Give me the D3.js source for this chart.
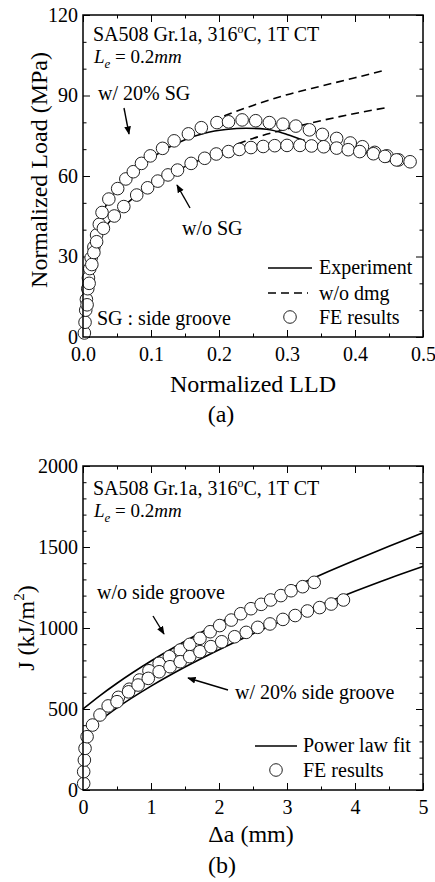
<!DOCTYPE html>
<html>
<head>
<meta charset="utf-8">
<script src="https://cdn.jsdelivr.net/npm/d3@7"></script>
<style>
  body { margin: 0; background: #fff; }
  svg { display: block; font-family: 'Liberation Serif', 'Times New Roman', serif; }
</style>
</head>
<body>
<svg id="fig" width="435" height="882"></svg>
<script>
// ---- panel (a): normalized load vs normalized LLD ----
const lldTicks = [0, 0.1, 0.2, 0.3, 0.4, 0.5];
const loadTicks = [0, 30, 60, 90, 120];

// experiment, w/ 20% side groove
const lldExpSG = [0, 0.005, 0.01, 0.02, 0.03, 0.05, 0.075, 0.1, 0.125, 0.15, 0.18, 0.21, 0.24, 0.27, 0.3, 0.326];
const loadExpSG = [0, 15, 28, 40, 47, 55, 61.5, 66.5, 70.5, 73.5, 76, 77.3, 77.8, 77.4, 75.5, 73.2];
// experiment, w/o side groove
const lldExpNo = [0, 0.005, 0.01, 0.02, 0.03, 0.05, 0.075, 0.1, 0.125, 0.15, 0.175, 0.2, 0.225, 0.25, 0.275, 0.3, 0.325, 0.35, 0.375, 0.4, 0.425, 0.45, 0.47];
const loadExpNo = [0, 12, 22, 33, 39.5, 46, 52, 56.5, 60.2, 63.5, 66.2, 68.2, 69.6, 70.5, 71.0, 71.2, 71.1, 70.7, 70.1, 69.3, 68.2, 66.8, 65.6];
// w/o damage (dashed)
const lldDmgSG = [0.19, 0.21, 0.25, 0.3, 0.35, 0.4, 0.443];
const loadDmgSG = [80.5, 82.6, 86.3, 90.3, 93.5, 96.6, 99.4];
const lldDmgNo = [0.228, 0.25, 0.3, 0.35, 0.4, 0.447];
const loadDmgNo = [72.0, 74, 77.5, 80.6, 83.3, 85.5];
// FE results
const lldFeSG = [0.002, 0.003, 0.004, 0.005, 0.007, 0.008, 0.010, 0.012, 0.016, 0.020, 0.024, 0.028, 0.038, 0.051, 0.063, 0.074, 0.086, 0.099, 0.117, 0.134, 0.155, 0.174, 0.197, 0.214, 0.234, 0.254, 0.274, 0.294, 0.313, 0.333, 0.352, 0.373, 0.393, 0.411, 0.429, 0.447, 0.464];
const loadFeSG = [1.5, 5.5, 10, 14, 18, 22, 25.5, 29.5, 33.5, 38, 42, 46.4, 51.4, 55.3, 58.9, 61.6, 64.7, 67.5, 70.3, 73.1, 75.7, 78.0, 79.9, 80.2, 80.9, 80.6, 79.9, 79.3, 78.6, 77.2, 75.5, 74.0, 72.3, 70.9, 68.8, 67.5, 66.0];
const lldFeNo = [0.006, 0.009, 0.013, 0.016, 0.020, 0.030, 0.046, 0.060, 0.079, 0.095, 0.110, 0.125, 0.139, 0.159, 0.179, 0.196, 0.214, 0.230, 0.247, 0.265, 0.282, 0.300, 0.319, 0.336, 0.354, 0.373, 0.390, 0.407, 0.427, 0.444, 0.461, 0.481];
const loadFeNo = [12, 20, 27, 31.5, 35.5, 40.5, 45.1, 48.6, 52.9, 55.6, 58.1, 60.4, 62.2, 64.7, 66.6, 68.2, 69.1, 69.9, 70.6, 71.0, 71.3, 71.4, 71.4, 71.2, 70.9, 70.4, 69.8, 69.1, 68.3, 67.3, 66.0, 65.3];

// ---- panel (b): J vs crack growth ----
const daTicks = [0, 1, 2, 3, 4, 5];
const jTicks = [0, 500, 1000, 1500, 2000];

// power law fits
const daFitNo = [0, 0.25, 0.5, 1, 1.5, 2, 2.5, 3, 3.5, 4, 4.5, 5];
const jFitNo = [500, 583, 659, 796, 918, 1031, 1136, 1235, 1329, 1418, 1504, 1588];
const daFitSG = [0.25, 0.5, 1, 1.5, 2, 2.5, 3, 3.5, 4, 4.5, 5];
const jFitSG = [430, 507, 641, 759, 866, 965, 1057, 1144, 1227, 1306, 1380];
// FE results
const daFeNo = [0.01, 0.01, 0.02, 0.03, 0.06, 0.14, 0.25, 0.37, 0.52, 0.68, 0.83, 0.97, 1.12, 1.27, 1.43, 1.57, 1.72, 1.87, 2.01, 2.18, 2.32, 2.47, 2.62, 2.76, 2.91, 3.06, 3.23, 3.40];
const jFeNo = [40, 113, 185, 257, 329, 401, 463, 519, 572, 622, 679, 736, 782, 823, 864, 899, 936, 977, 1015, 1049, 1088, 1119, 1146, 1173, 1200, 1230, 1255, 1282];
const daFeSG = [0.50, 0.67, 0.81, 0.96, 1.12, 1.28, 1.43, 1.57, 1.72, 1.88, 2.04, 2.23, 2.40, 2.57, 2.75, 2.94, 3.12, 3.30, 3.48, 3.65, 3.83];
const jFeSG = [545, 606, 648, 689, 730, 761, 792, 823, 854, 885, 915, 946, 973, 1004, 1025, 1053, 1077, 1105, 1126, 1148, 1173];

const zip = (a, b) => a.map((v, i) => [v, b[i]]);
const svg = d3.select('#fig');

// arrow head
svg.append('defs').append('marker')
    .attr('id', 'head')
    .attr('viewBox', '0 0 10 10')
    .attr('refX', 9).attr('refY', 5)
    .attr('markerWidth', 6).attr('markerHeight', 6)
    .attr('orient', 'auto')
  .append('path')
    .attr('d', 'M0,1 L10,5 L0,9 Z')
    .attr('fill', '#000');

function panel(o) {
  const left = 83, right = 423;
  const x = d3.scaleLinear(o.xDomain, [left, right]);
  const y = d3.scaleLinear(o.yDomain, [o.bottom, o.top]);
  const g = svg.append('g');

  // inward ticks on all four sides
  const sides = [
    [d3.axisBottom, x, `translate(0,${o.bottom})`, o.xTicks, o.xMinor, o.xFmt, 10],
    [d3.axisTop, x, `translate(0,${o.top})`, o.xTicks, o.xMinor, null, 0],
    [d3.axisLeft, y, `translate(${left},0)`, o.yTicks, o.yMinor, o.yFmt, 5],
    [d3.axisRight, y, `translate(${right},0)`, o.yTicks, o.yMinor, null, 0]
  ];
  sides.forEach(([ax, sc, tr, major, minor, fmt, pad]) => {
    g.append('g').attr('transform', tr)
      .call(ax(sc).tickValues(minor).tickSize(-3.5).tickFormat(''))
      .call(s => s.select('.domain').remove());
    g.append('g').attr('transform', tr)
      .call(ax(sc).tickValues(major).tickSize(-7).tickPadding(pad).tickFormat(fmt || (() => '')))
      .attr('font-size', 20)
      .attr('font-family', null)
      .call(s => s.select('.domain').remove())
      .call(s => s.selectAll('text').attr('fill', '#000'));
  });
  g.selectAll('.tick line').attr('stroke', '#000');

  const line = d3.line().x(d => x(d[0])).y(d => y(d[1])).curve(d3.curveMonotoneX);
  o.lines.forEach(l => {
    g.append('path')
      .attr('d', line(l.data))
      .attr('fill', 'none')
      .attr('stroke', '#000')
      .attr('stroke-width', 1.6)
      .attr('stroke-dasharray', l.dash ? '8,5' : null);
  });
  o.points.forEach(p => {
    g.append('g').selectAll('circle')
      .data(p)
      .join('circle')
        .attr('cx', d => x(d[0]))
        .attr('cy', d => y(d[1]))
        .attr('r', 6.3)
        .attr('fill', '#fff')
        .attr('stroke', '#222')
        .attr('stroke-width', 1);
  });

  g.append('rect')
    .attr('x', left).attr('y', o.top)
    .attr('width', right - left).attr('height', o.bottom - o.top)
    .attr('fill', 'none').attr('stroke', '#000').attr('stroke-width', 1.5);
  return g;
}

function note(g, px, py, txt, size = 20) {
  return g.append('text').attr('x', px).attr('y', py).attr('font-size', size).text(txt);
}

function header(g, py) {
  const t = g.append('text').attr('x', 93).attr('y', py).attr('font-size', 20);
  t.append('tspan').text('SA508 Gr.1a, 316');
  t.append('tspan').attr('dy', -8).attr('font-size', 12).text('o');
  t.append('tspan').attr('dy', 8).text('C, 1T CT');
  const l = g.append('text').attr('x', 94).attr('y', py + 22).attr('font-size', 19);
  l.append('tspan').attr('font-style', 'italic').text('L');
  l.append('tspan').attr('font-style', 'italic').attr('font-size', 13).attr('dy', 5).text('e');
  l.append('tspan').attr('dy', -5).text(' = 0.2');
  l.append('tspan').attr('font-style', 'italic').text('mm');
}

function arrow(g, x1, y1, x2, y2) {
  g.append('line')
    .attr('x1', x1).attr('y1', y1).attr('x2', x2).attr('y2', y2)
    .attr('stroke', '#000').attr('stroke-width', 1.4)
    .attr('marker-end', 'url(#head)');
}

// panel (a)
const ga = panel({
  top: 15, bottom: 337,
  xDomain: [0, 0.5], yDomain: [0, 120],
  xTicks: lldTicks, xMinor: d3.range(0.05, 0.5, 0.1),
  yTicks: loadTicks, yMinor: d3.range(0, 121, 10).filter(v => v % 30),
  xFmt: d3.format('.1f'), yFmt: d3.format('d'),
  lines: [
    { data: zip(lldExpSG, loadExpSG) },
    { data: zip(lldExpNo, loadExpNo) },
    { data: zip(lldDmgSG, loadDmgSG), dash: true },
    { data: zip(lldDmgNo, loadDmgNo), dash: true }
  ],
  points: [zip(lldFeSG, loadFeSG), zip(lldFeNo, loadFeNo)]
});
header(ga, 41);
note(ga, 98, 100, 'w/ 20% SG');
arrow(ga, 124, 108, 129, 134);
note(ga, 182, 235, 'w/o SG');
arrow(ga, 190, 208, 177, 185);
note(ga, 97, 325, 'SG : side groove');
// legend
ga.append('line').attr('x1', 268).attr('x2', 312).attr('y1', 268).attr('y2', 268)
  .attr('stroke', '#000').attr('stroke-width', 1.6);
note(ga, 319, 274, 'Experiment');
ga.append('line').attr('x1', 268).attr('x2', 308).attr('y1', 293).attr('y2', 293)
  .attr('stroke', '#000').attr('stroke-width', 1.6).attr('stroke-dasharray', '8,5');
note(ga, 319, 300, 'w/o dmg');
ga.append('circle').attr('cx', 290).attr('cy', 317).attr('r', 6.3)
  .attr('fill', '#fff').attr('stroke', '#222');
note(ga, 319, 324, 'FE results');
ga.append('text')
  .attr('transform', 'rotate(-90)')
  .attr('x', -170).attr('y', 47)
  .attr('text-anchor', 'middle').attr('font-size', 24)
  .text('Normalized Load (MPa)');
ga.append('text').attr('x', 253).attr('y', 392)
  .attr('text-anchor', 'middle').attr('font-size', 24).text('Normalized LLD');
ga.append('text').attr('x', 221).attr('y', 422)
  .attr('text-anchor', 'middle').attr('font-size', 24).text('(a)');

// panel (b)
const gb = panel({
  top: 466, bottom: 790,
  xDomain: [0, 5], yDomain: [0, 2000],
  xTicks: daTicks, xMinor: d3.range(0.5, 5, 1),
  yTicks: jTicks, yMinor: d3.range(100, 2000, 100).filter(v => v % 500),
  xFmt: d3.format('d'), yFmt: d3.format('d'),
  lines: [
    { data: zip(daFitNo, jFitNo) },
    { data: zip(daFitSG, jFitSG) }
  ],
  points: [zip(daFeNo, jFeNo), zip(daFeSG, jFeSG)]
});
header(gb, 495);
note(gb, 97, 599, 'w/o side groove');
arrow(gb, 153, 616, 164, 634);
note(gb, 235, 699, 'w/ 20% side groove');
arrow(gb, 228, 690, 188, 678);
gb.append('line').attr('x1', 255).attr('x2', 297).attr('y1', 746).attr('y2', 746)
  .attr('stroke', '#000').attr('stroke-width', 1.6);
note(gb, 303, 752, 'Power law fit');
gb.append('circle').attr('cx', 276).attr('cy', 770).attr('r', 6.3)
  .attr('fill', '#fff').attr('stroke', '#222');
note(gb, 303, 777, 'FE results');
const jt = gb.append('text')
  .attr('transform', 'rotate(-90)')
  .attr('x', -628).attr('y', 34)
  .attr('text-anchor', 'middle').attr('font-size', 24);
jt.append('tspan').text('J (kJ/m');
jt.append('tspan').attr('dy', -10).attr('font-size', 15).text('2');
jt.append('tspan').attr('dy', 10).text(')');
gb.append('text').attr('x', 251).attr('y', 842)
  .attr('text-anchor', 'middle').attr('font-size', 24).text('Δa (mm)');
gb.append('text').attr('x', 222).attr('y', 873)
  .attr('text-anchor', 'middle').attr('font-size', 24).text('(b)');
</script>
</body>
</html>
